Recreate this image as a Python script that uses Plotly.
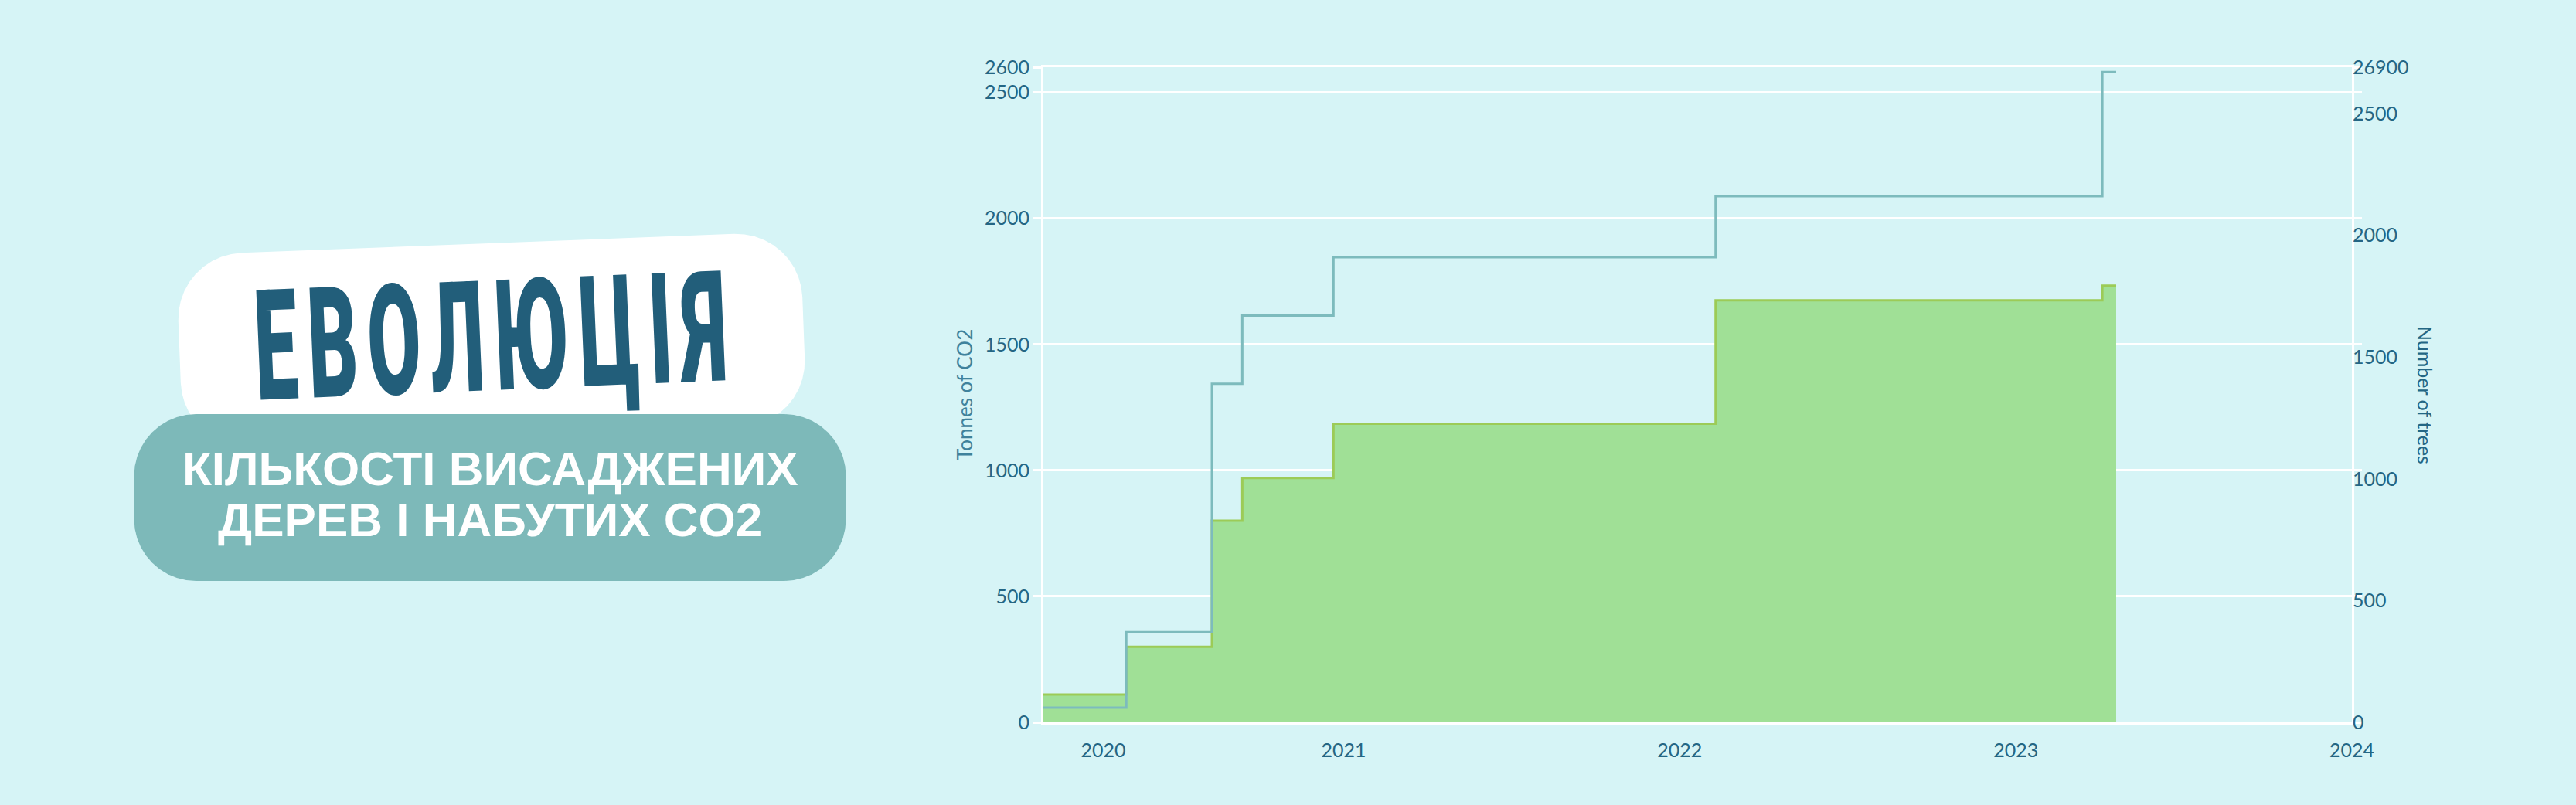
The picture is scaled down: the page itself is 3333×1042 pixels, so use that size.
import math
import plotly.graph_objects as go

# ---------------- data ----------------
step_dates = ["2020-02-10", "2020-05-10", "2020-08-11", "2020-09-13",
              "2020-12-21", "2022-02-09", "2023-04-05", "2023-04-20"]
co2_tonnes = [110, 300, 800, 970, 1185, 1675, 1733, 1733]
trees_scaled = [60, 370, 1390, 1670, 1910, 2160, 2670, 2670]

x_tick_vals = ["2020-04-15", "2021-01-01", "2022-01-01", "2023-01-01", "2024-01-01"]
x_tick_text = ["2020", "2021", "2022", "2023", "2024"]
y1_tick_vals = [0, 500, 1000, 1500, 2000, 2500, 2600]
y1_tick_text = ["0", "500", "1000", "1500", "2000", "2500", "2600"]
y2_tick_vals = [0, 500, 1000, 1500, 2000, 2500, 2690]
y2_tick_text = ["0", "500", "1000", "1500", "2000", "2500", "26900"]

title_main = "ЕВОЛЮЦІЯ"
title_sub1 = "КІЛЬКОСТІ ВИСАДЖЕНИХ"
title_sub2 = "ДЕРЕВ І НАБУТИХ CO2"

# ---------------- style ----------------
W, H = 3333, 1042
BG = "#d6f4f6"
TXT = "#246684"
ML, MR, MT, MB = 1350, 290, 87, 107
PW = W - ML - MR
PH = H - MT - MB


def to_paper(px, py):
    return (px - ML) / PW, (H - MB - py) / PH


def rounded_rect_path(cx, cy, w, h, r, angle_deg=0.0, n=10):
    a = math.radians(angle_deg)
    pts = []
    corners = [(w / 2 - r, -h / 2 + r, -90, 0), (w / 2 - r, h / 2 - r, 0, 90),
               (-w / 2 + r, h / 2 - r, 90, 180), (-w / 2 + r, -h / 2 + r, 180, 270)]
    for ux, uy, s, e in corners:
        for i in range(n + 1):
            t = math.radians(s + (e - s) * i / n)
            pts.append((ux + r * math.cos(t), uy + r * math.sin(t)))
    out = []
    for u, v in pts:
        X = cx + u * math.cos(a) + v * math.sin(a)
        Y = cy - u * math.sin(a) + v * math.cos(a)
        out.append(to_paper(X, Y))
    return "M " + " L ".join(f"{x:.5f},{y:.5f}" for x, y in out) + " Z"


fig = go.Figure()
fig.add_trace(go.Scatter(
    x=step_dates, y=co2_tonnes, mode="lines", line_shape="hv",
    line=dict(color="#9ccb57", width=3), fill="tozeroy", fillcolor="#a0e096",
    name="Tonnes of CO2", showlegend=False))
fig.add_trace(go.Scatter(
    x=step_dates, y=trees_scaled, mode="lines", line_shape="hv",
    line=dict(color="#7dbbbd", width=3), yaxis="y2",
    name="Number of trees", showlegend=False))

tickfont = dict(family="Lato, Noto Sans, sans-serif", size=25, color=TXT)

fig.update_layout(
    width=W, height=H,
    margin=dict(l=ML, r=MR, t=MT, b=MB, pad=0),
    paper_bgcolor=BG, plot_bgcolor=BG,
    xaxis=dict(type="date", range=["2020-02-10", "2024-01-01"],
               tickvals=x_tick_vals, ticktext=x_tick_text, tickfont=tickfont,
               showgrid=False, zeroline=False, showline=True, linecolor="white",
               linewidth=3, mirror=True, ticks="", ticklabelstandoff=12),
    yaxis=dict(range=[0, 2600], tickvals=y1_tick_vals, ticktext=y1_tick_text,
               tickfont=tickfont, showgrid=True, gridcolor="white", gridwidth=3,
               zeroline=False, showline=True, linecolor="white", linewidth=3,
               mirror="ticks", ticks="outside", ticklen=10, tickwidth=3,
               tickcolor="white"),
    yaxis2=dict(range=[0, 2690], tickvals=y2_tick_vals, ticktext=y2_tick_text,
                tickfont=tickfont, overlaying="y", side="right", showgrid=False,
                zeroline=False, showline=False, ticks=""),
)

shapes = [
    dict(type="path", xref="paper", yref="paper", layer="above",
         path=rounded_rect_path(636, 440, 808, 250, 85, angle_deg=2.2),
         fillcolor="white", line=dict(width=0)),
    dict(type="path", xref="paper", yref="paper", layer="above",
         path=rounded_rect_path(634, 644, 921, 216, 80),
         fillcolor="#7db9b9", line=dict(width=0)),
]
fig.update_layout(shapes=shapes)

ann = []
x, y = to_paper(634, 436)
ann.append(dict(xref="paper", yref="paper", x=x, y=y, text=title_main,
                showarrow=False, textangle=-2.4, xanchor="center", yanchor="middle",
                font=dict(family="Roboto, Open Sans, sans-serif",
                          size=200, color="#225e7a", weight=900)))
x, y = to_paper(634, 606)
ann.append(dict(xref="paper", yref="paper", x=x, y=y, text=title_sub1,
                showarrow=False, xanchor="center", yanchor="middle",
                font=dict(family="Liberation Sans, Arial, sans-serif", size=62,
                          color="white", weight="bold")))
x, y = to_paper(634, 672)
ann.append(dict(xref="paper", yref="paper", x=x, y=y, text=title_sub2,
                showarrow=False, xanchor="center", yanchor="middle",
                font=dict(family="Liberation Sans, Arial, sans-serif", size=62,
                          color="white", weight="bold")))
x, y = to_paper(1248, 511)
ann.append(dict(xref="paper", yref="paper", x=x, y=y, text="Tonnes of CO2",
                showarrow=False, textangle=-90, xanchor="center", yanchor="middle",
                font=dict(family="Lato, Noto Sans, sans-serif", size=26, color="#3f829c")))
x, y = to_paper(3138, 511)
ann.append(dict(xref="paper", yref="paper", x=x, y=y, text="Number of trees",
                showarrow=False, textangle=90, xanchor="center", yanchor="middle",
                font=dict(family="Lato, Noto Sans, sans-serif", size=25, color=TXT)))
fig.update_layout(annotations=ann)

# condense the big title horizontally (keeps it as real text)
post_js = """
(function(){
  var gd = document.getElementById('{plot_id}');
  function condense(){
    var t = gd.querySelector('g.annotation[data-index="0"] text.annotation-text');
    if(!t) return;
    var b0 = t.getBBox();
    var c0x = b0.x + b0.width/2, c0y = b0.y + b0.height/2;
    var ls = 26;
    t.setAttribute('letter-spacing', ls + 'px');
    var b = t.getBBox();
    var w = b.width - ls;
    var cx = b.x + w/2;
    var sx = 611 / w;
    t.setAttribute('transform', 'translate(' + c0x + ',' + c0y + ') scale(' + sx + ',1) translate(' + (-cx) + ',' + (-c0y) + ')');
  }
  condense();
})();
"""

fig.write_html("out.html", post_script=post_js)
